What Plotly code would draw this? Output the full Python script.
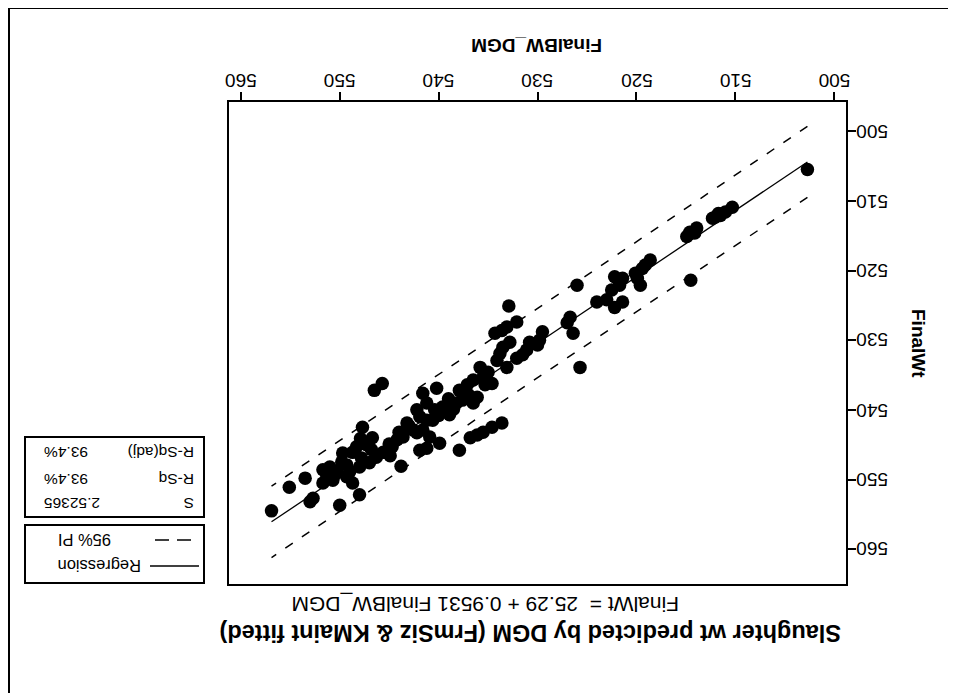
import plotly.graph_objects as go

# ---------------- data ----------------
final_bw_dgm = [502.7, 510.3, 511.0, 511.7, 512.3, 512.0, 511.5, 513.9, 514.6, 514.9,
                514.1, 514.5, 518.6, 519.1, 519.4, 520.1, 519.6, 519.9, 522.2, 521.4,
                522.5, 521.7, 523.0, 522.2, 521.4, 526.0, 524.0, 532.9, 532.1, 533.1,
                534.3, 533.6, 526.7, 527.0, 526.4, 525.7, 529.5, 529.8, 530.8, 531.1,
                530.0, 532.8, 533.8, 534.1, 533.1, 532.1, 531.5, 533.5, 535.8, 535.5,
                534.6, 536.5, 537.1, 537.9, 540.2, 536.5, 536.1, 537.6, 538.2, 538.9,
                539.6, 540.4, 540.6, 533.6, 534.6, 535.5, 536.1, 536.8, 545.7, 546.5,
                541.6, 541.2, 542.2, 541.9, 543.2, 542.6, 543.6, 544.2, 544.7, 545.2,
                541.2, 541.6, 542.2, 540.9, 541.9, 541.2, 539.9, 537.9, 543.8, 547.7,
                546.7, 547.3, 548.3, 548.7, 549.7, 549.8, 549.3, 548.0, 547.0, 546.3,
                545.6, 551.7, 551.0, 551.3, 550.3, 550.7, 549.3, 548.7, 551.7, 548.0,
                550.0, 552.7, 553.0, 555.1, 556.9, 550.5, 549.0, 547.8, 546.8, 545.0,
                544.0, 543.0, 540.0, 539.0, 538.5, 537.0, 535.0, 553.5, 538.4, 535.3,
                544.9, 547.9]
final_wt = [505.5, 510.9, 511.6, 511.8, 512.5, 512.3, 512.1, 513.9, 514.5, 515.1,
            514.6, 521.4, 518.5, 519.2, 519.7, 520.4, 522.1, 521.1, 520.9, 521.1,
            522.8, 522.1, 524.2, 525.3, 524.5, 522.1, 524.5, 525.1, 527.4, 528.1,
            529.0, 528.6, 526.7, 527.5, 529.0, 533.9, 528.8, 530.0, 530.3, 531.4,
            530.7, 530.3, 531.9, 532.9, 533.9, 532.6, 532.1, 531.0, 533.9, 535.3,
            536.2, 535.7, 536.4, 537.2, 536.9, 539.0, 538.2, 538.6, 539.0, 540.7,
            539.6, 540.0, 541.5, 541.9, 542.5, 543.2, 543.6, 544.0, 536.2, 537.2,
            537.6, 539.0, 540.0, 541.0, 541.9, 542.9, 543.9, 544.3, 545.3, 546.1,
            541.5, 542.9, 543.3, 543.9, 545.8, 545.5, 544.8, 545.8, 548.1, 542.5,
            544.0, 545.0, 545.3, 546.1, 546.2, 547.5, 547.9, 548.2, 547.6, 546.8,
            546.1, 548.6, 548.2, 549.6, 548.9, 550.1, 549.6, 550.5, 550.5, 552.2,
            553.7, 552.7, 553.2, 551.1, 554.5, 549.3, 548.9, 546.9, 545.7, 544.9,
            543.2, 542.3, 540.8, 538.4, 539.9, 537.8, 534.6, 549.8, 539.3, 536.4,
            546.6, 544.1]

# regression equation shown on the chart
intercept = 25.29
slope = 0.9531

# 95% prediction interval
pi_x = [502.7, 529.8, 556.9]
pi_lower = [499.3, 525.25, 550.95]
pi_upper = [509.5, 535.2, 561.2]

x_ticks = [500, 510, 520, 530, 540, 550, 560]
y_ticks = [500, 510, 520, 530, 540, 550, 560]

legend_labels = ["Regression", "95% PI"]
stats_labels = ["S", "R-Sq", "R-Sq(adj)"]
stats_values = ["2.52365", "93.4%", "93.4%"]

title_text = "Slaughter wt predicted by DGM (FrmSiz & KMaint fitted)"
subtitle_text = "FinalWt =  25.29 + 0.9531 FinalBW_DGM"
x_title = "FinalBW_DGM"
y_title = "FinalWt"

# ---------------- layout geometry (page pixels) ----------------
OFF = 8                      # default body margin of the html page
W, H = 956 - OFF, 693 - OFF  # figure size
L, R, T, B = 229, 846, 102, 584  # plot box in page pixels
FONT = "Liberation Sans"


def px(x):
    return (x - L) / (R - L)


def py(y):
    return (B - y) / (B - T)


fit_x = [min(final_bw_dgm), max(final_bw_dgm)]
fit_y = [intercept + slope * v for v in fit_x]

fig = go.Figure()
for band in (pi_lower, pi_upper):
    fig.add_trace(go.Scatter(x=pi_x, y=band, mode="lines",
                             line=dict(color="black", width=1.5, dash="9px,11px"),
                             showlegend=False, hoverinfo="skip"))
fig.add_trace(go.Scatter(x=fit_x, y=fit_y, mode="lines",
                         line=dict(color="black", width=1.3),
                         showlegend=False, hoverinfo="skip"))
fig.add_trace(go.Scatter(x=final_bw_dgm, y=final_wt, mode="markers",
                         marker=dict(color="black", size=13.5, line=dict(width=0)),
                         showlegend=False))

axis_common = dict(showgrid=False, zeroline=False, showline=True, mirror=True,
                   linecolor="black", linewidth=2, ticks="outside", ticklen=8,
                   tickwidth=1.5, tickcolor="black", showticklabels=False)

fig.update_layout(
    width=W, height=H,
    margin=dict(l=L - OFF, r=(956 - R), t=T - OFF, b=(693 - B), pad=0),
    paper_bgcolor="white", plot_bgcolor="white",
    xaxis=dict(range=[561.2, 498.8], side="top", tickvals=x_ticks, **axis_common),
    yaxis=dict(range=[565.0, 495.8], side="right", tickvals=y_ticks, **axis_common),
    showlegend=False,
)

ann = []


def txt(text, x, y, size, xanchor="center", angle=180, xref="paper", yref="paper"):
    ann.append(dict(text=text, x=x, y=y, xref=xref, yref=yref, showarrow=False,
                    textangle=angle, xanchor=xanchor, yanchor="middle",
                    font=dict(family=FONT, size=size, color="black")))


# tick labels (upside-down), positioned by the axes' own scales
for v in x_ticks:
    txt(str(v), v, py(80), 19, xref="x")
for v in y_ticks:
    txt(str(v), px(872), v, 19, yref="y")

# titles (upside-down like the reference)
txt("<b>" + title_text.replace("&", "&amp;") + "</b>", px(531), py(633), 23.5)
txt(subtitle_text, px(485), py(604), 21)
txt("<b>" + x_title + "</b>", px(537), py(45), 19)
txt("<b>" + y_title + "</b>", px(919), py(343), 19, angle=90)

# stats box
stat_rows_y = [504, 480, 453]
for lab, val, yy in zip(stats_labels, stats_values, stat_rows_y):
    txt(lab, px(196), py(yy), 15.5, xanchor="right")
    txt(val, px(42), py(yy), 15.5, xanchor="left")

# legend box
leg_rows_y = [566, 540]
for lab, yy in zip(legend_labels, leg_rows_y):
    txt(lab, px(56), py(yy), 16.5, xanchor="left")

fig.update_layout(annotations=ann)

shapes = []


def seg(x0, y0, x1, y1, width=2, dash=None):
    line = dict(color="black", width=width)
    if dash:
        line["dash"] = dash
    shapes.append(dict(type="line", xref="paper", yref="paper",
                       x0=px(x0), x1=px(x1), y0=py(y0), y1=py(y1), line=line))


# legend & stats frames
shapes.append(dict(type="rect", xref="paper", yref="paper", x0=px(25), x1=px(204),
                   y0=py(437), y1=py(517), line=dict(color="black", width=2)))
shapes.append(dict(type="rect", xref="paper", yref="paper", x0=px(25), x1=px(204),
                   y0=py(525), y1=py(583), line=dict(color="black", width=2)))
# legend samples
seg(150, 566, 199, 566, width=1.5)
seg(155, 540, 199, 540, width=1.5, dash="14px,8px")
# outer frame of the original graph page
seg(9, 8, 956, 8)
seg(9, 8, 9, 693)
fig.update_layout(shapes=shapes)

fig.write_html("out.html")
